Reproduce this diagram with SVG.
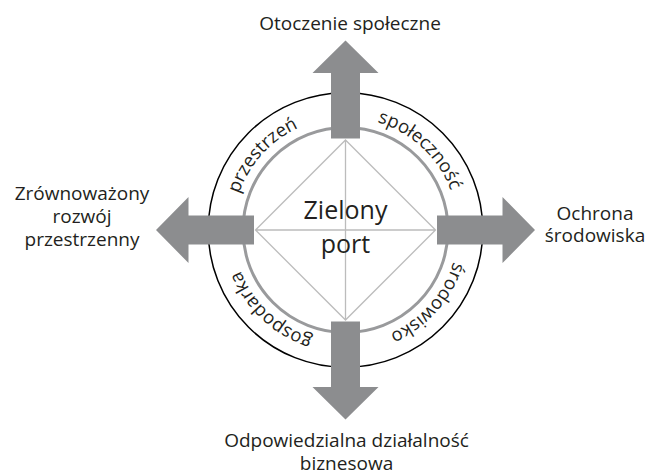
<svg xmlns="http://www.w3.org/2000/svg" xmlns:xlink="http://www.w3.org/1999/xlink" width="651" height="475" viewBox="0 0 651 475">
<style>
.lbl{font-family:"Open Sans","Noto Sans","Liberation Sans",sans-serif;font-size:19px;fill:#231f20;text-anchor:middle}
.arc{font-family:"Open Sans","Noto Sans","Liberation Sans",sans-serif;font-size:18.5px;fill:#231f20;text-anchor:middle}
.ctr{font-family:"Open Sans","Noto Sans","Liberation Sans",sans-serif;font-size:25px;fill:#231f20;text-anchor:middle}
.arrow{fill:#8c8d8f}
.diam{fill:none;stroke:#bcbcbc;stroke-width:1.3}
</style>
<defs>
<path id="arr" d="M91.5,-14.5 H157 V-33 L189.5,0 L157,33 V14.5 H91.5 Z"/>
<path id="ring" d="M458,230 A112.5,112.5 0 1 1 233,230 A112.5,112.5 0 1 1 458,230"/>
</defs>
<g id="rings">
<circle cx="345.5" cy="230" r="137.3" fill="none" stroke="#000" stroke-width="1.5"/>
<circle cx="345.5" cy="230" r="102.5" fill="none" stroke="#999a9c" stroke-width="3"/>
</g>
<g id="diamond">
<path class="diam" d="M345.5,140 L435.5,230 L345.5,320 L255.5,230 Z M345.5,140 V320 M255.5,230 H435.5"/>
</g>
<g id="arrows">
<use href="#arr" class="arrow" transform="translate(345.5,230) rotate(-90)"/>
<use href="#arr" class="arrow" transform="translate(345.5,230)"/>
<use href="#arr" class="arrow" transform="translate(345.5,230) rotate(90)"/>
<use href="#arr" class="arrow" transform="translate(345.5,230) rotate(180)"/>
</g>
<g id="ring-labels">
<text class="arc"><textPath href="#ring" startOffset="61.67%">przestrzeń</textPath></text>
<text class="arc"><textPath href="#ring" startOffset="86.94%">społeczność</textPath></text>
<text class="arc"><textPath href="#ring" startOffset="36.94%">gospodarka</textPath></text>
<text class="arc"><textPath href="#ring" startOffset="11.56%">środowisko</textPath></text>
</g>
<g id="center">
<text class="ctr" x="345.5" y="219">Zielony</text>
<text class="ctr" x="345.5" y="253">port</text>
</g>
<g id="top">
<text class="lbl" x="350" y="30">Otoczenie społeczne</text>
</g>
<g id="left">
<text class="lbl" x="82" y="200">Zrównoważony</text>
<text class="lbl" x="82" y="223">rozwój</text>
<text class="lbl" x="82" y="246">przestrzenny</text>
</g>
<g id="right">
<text class="lbl" x="595" y="220">Ochrona</text>
<text class="lbl" x="595" y="242">środowiska</text>
</g>
<g id="bottom">
<text class="lbl" x="346.5" y="447">Odpowiedzialna działalność</text>
<text class="lbl" x="346.5" y="470">biznesowa</text>
</g>
</svg>
